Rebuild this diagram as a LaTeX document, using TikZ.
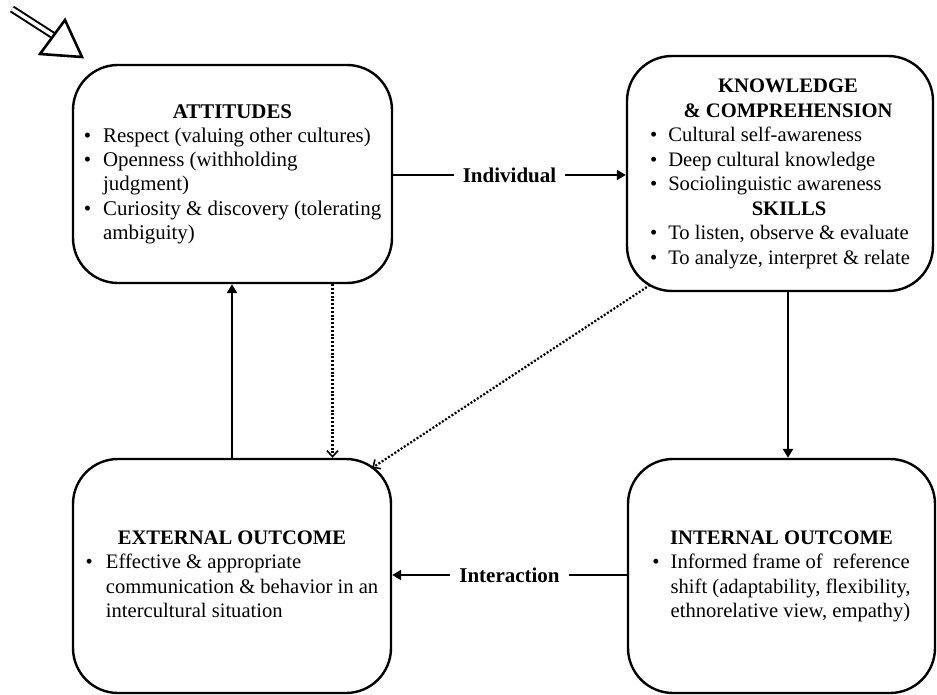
\documentclass[tikz,border=0pt]{standalone}
\usepackage{fontspec}
\setmainfont{Liberation Serif}
\usetikzlibrary{arrows.meta,calc}
\begin{document}
\begin{tikzpicture}[x=1pt,y=-1pt,
  box/.style={draw, line width=2.4pt, rounded corners=45pt, align=center,
    font=\fontsize{20.6}{24.5}\selectfont},
  conn/.style={line width=2.4pt, -{Triangle[length=9pt,width=10pt]}},
  dotconn/.style={line width=2.2pt, dash pattern=on 2pt off 1.8pt,
    -{Straight Barb[length=6pt,width=11pt,line width=1.6pt]}},
  lbl/.style={fill=white, inner xsep=9pt, font=\fontsize{21}{24}\selectfont\bfseries}]
\useasboundingbox (0,0) rectangle (937,695);
% boxes
\node[box, minimum width=319pt, minimum height=218pt, font=\fontsize{20.9}{24.2}\selectfont] (A) at (232.5,174) {%
\begin{tabular}{@{}l@{\hspace{12pt}}l@{}}
\multicolumn{2}{c}{\bfseries ATTITUDES}\\
\textbullet & Respect (valuing other cultures)\\
\textbullet & Openness (withholding\\
 & judgment)\\
\textbullet & Curiosity \& discovery (tolerating\\
 & ambiguity)
\end{tabular}};
\node[box, minimum width=306pt, minimum height=235pt] (K) at (780,173.5) {%
\begin{tabular}{@{}l@{\hspace{11pt}}l@{}}
\multicolumn{2}{c}{\hspace{16pt}\bfseries KNOWLEDGE}\\
\multicolumn{2}{c}{\hspace{16pt}\bfseries \& COMPREHENSION}\\
\textbullet & Cultural self-awareness\\
\textbullet & Deep cultural knowledge\\
\textbullet & Sociolinguistic awareness\\
\multicolumn{2}{c}{\hspace{18pt}\bfseries SKILLS}\\
\textbullet & To listen, observe \& evaluate\\
\textbullet & To analyze, interpret \& relate
\end{tabular}};
\node[box, minimum width=318pt, minimum height=234pt] (E) at (232,576) {%
\begin{tabular}{@{}l@{\hspace{13pt}}l@{}}
\multicolumn{2}{c}{\bfseries EXTERNAL OUTCOME}\\
\textbullet & Effective \& appropriate\\
 & communication \& behavior in an\\
 & intercultural situation
\end{tabular}};
\node[box, minimum width=307pt, minimum height=234pt] (I) at (781.5,576) {%
\begin{tabular}{@{}l@{\hspace{11pt}}l@{}}
\multicolumn{2}{c}{\bfseries INTERNAL OUTCOME}\\
\textbullet & Informed frame of \ reference\\
 & shift (adaptability, flexibility,\\
 & ethnorelative view, empathy)
\end{tabular}};
% connectors
\draw[conn] ([yshift=-1pt]A.east) -- node[lbl] (ind) {Individual} ([yshift=-1pt]A.east -| K.west);
\draw[conn] ([yshift=1pt]I.west) -- node[lbl] (int) {Interaction} ([yshift=1pt]I.west -| E.east);
\draw[conn] (E.north) -- (E.north |- A.south);
\draw[dotconn] ([xshift=100pt]A.south) -- ([xshift=100pt]A.south |- E.north);
\draw[conn] ([xshift=8pt]K.south) -- ([xshift=8pt]K.south |- I.north);
\coordinate (kd) at (650,285);
\coordinate (ed) at (372,468);
\draw[dotconn] (kd) -- (ed);
% hollow pointer arrow at top left
\draw[line width=2pt, double, double distance=3.5pt] (12,9) -- (54,36);
\draw[line width=2.6pt, line join=miter, fill=white] (65,20) -- (82,57) -- (40,54) -- cycle;
\end{tikzpicture}
\end{document}
